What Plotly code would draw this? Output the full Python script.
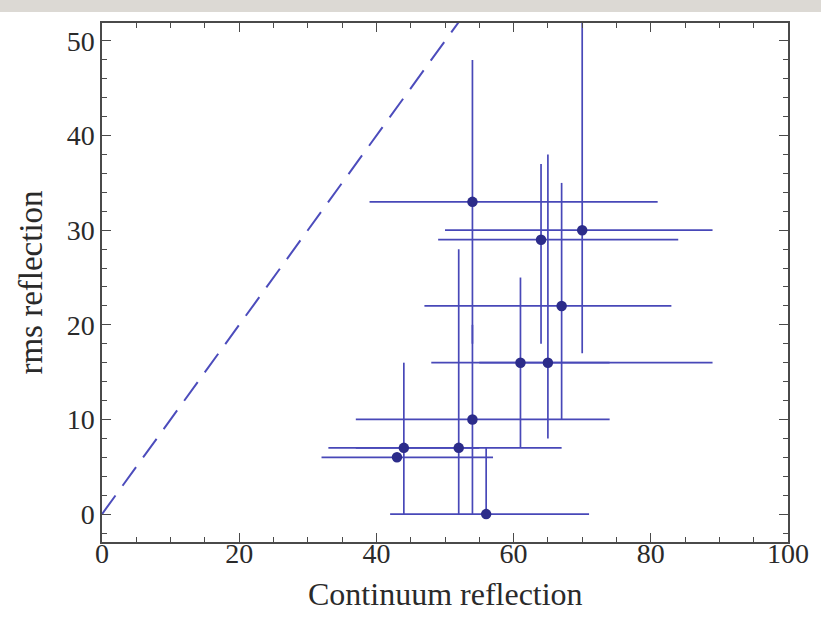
import plotly.graph_objects as go

# Data
cont = [43, 44, 52, 54, 56, 54, 61, 64, 65, 67, 70]          # Continuum reflection
rms = [6, 7, 7, 10, 0, 33, 16, 29, 16, 22, 30]               # rms reflection
cont_lo = [32, 33, 37, 37, 42, 39, 48, 49, 55, 47, 50]       # horizontal error bar low end
cont_hi = [57, 55, 67, 74, 71, 81, 74, 84, 89, 83, 89]       # horizontal error bar high end
rms_lo = [6, 0, 0, 0, 0, 18, 7, 18, 8, 10, 17]               # vertical error bar low end
rms_hi = [6, 16, 28, 20, 7, 48, 25, 37, 38, 35, 60]           # vertical error bar high end

line_x = [0, 60]
line_y = [0, 60]

x_tick_vals = [0, 20, 40, 60, 80, 100]
y_tick_vals = [0, 10, 20, 30, 40, 50]

err_col = "rgb(72,72,184)"
pt_col = "rgb(44,44,138)"

fig = go.Figure()

fig.add_trace(go.Scatter(
    x=line_x, y=line_y, mode="lines",
    line=dict(color="rgb(76,76,188)", width=2, dash="23px,12px"),
    showlegend=False, hoverinfo="skip"))

fig.add_trace(go.Scatter(
    x=cont, y=rms, mode="markers",
    marker=dict(color=pt_col, size=10.5),
    error_x=dict(type="data", symmetric=False,
                 array=[h - c for h, c in zip(cont_hi, cont)],
                 arrayminus=[c - l for c, l in zip(cont, cont_lo)],
                 color=err_col, thickness=1.7, width=0),
    error_y=dict(type="data", symmetric=False,
                 array=[h - r for h, r in zip(rms_hi, rms)],
                 arrayminus=[r - l for r, l in zip(rms, rms_lo)],
                 color=err_col, thickness=1.7, width=0),
    showlegend=False))

axis_common = dict(
    showgrid=False, zeroline=False, showline=True, linecolor="#4a4a4a", linewidth=1.5,
    mirror="ticks", ticks="inside", ticklen=9, tickwidth=1.2, tickcolor="#4a4a4a",
    tickfont=dict(family="Liberation Serif", size=28, color="#2a2a2a"),
)

fig.update_xaxes(
    range=[0, 100], tickvals=x_tick_vals, ticklabelstandoff=-14,
    minor=dict(dtick=5, ticks="inside", ticklen=5, tickwidth=1.1, tickcolor="#4a4a4a"),
    **axis_common)
fig.update_yaxes(
    range=[-2.95, 51.9], tickvals=y_tick_vals,
    minor=dict(dtick=2, ticks="inside", ticklen=5, tickwidth=1.1, tickcolor="#4a4a4a"),
    title=dict(text="rms reflection", font=dict(family="Liberation Serif", size=33, color="#2a2a2a"), standoff=14),
    **axis_common)

fig.add_annotation(text="Continuum reflection", xref="paper", yref="paper",
                   x=0.5, y=-0.1, xanchor="center", yanchor="middle", showarrow=False,
                   font=dict(family="Liberation Serif", size=32, color="#2a2a2a"))

fig.add_shape(type="rect", xref="paper", yref="paper", x0=-0.2, x1=1.1,
              y0=1.0 + (23 - 12) / 519, y1=1.2, fillcolor="#dcd9d4", line=dict(width=0), layer="below")

fig.update_layout(
    width=821, height=628,
    margin=dict(l=102, r=27, t=23, b=86),
    paper_bgcolor="white", plot_bgcolor="white",
)

fig.write_html("out.html")
